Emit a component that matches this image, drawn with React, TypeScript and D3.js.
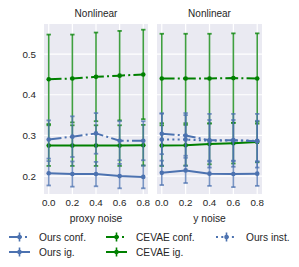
import React from "react";
import * as d3 from "d3";

const xs = [0, 0.2, 0.4, 0.6, 0.8];
const xTicks = ["0.0", "0.2", "0.4", "0.6", "0.8"];
const yTicks = [0.2, 0.3, 0.4, 0.5];
const titles = ["Nonlinear", "Nonlinear"];
const xLabels = ["proxy noise", "y noise"];

// panel 1: proxy noise
const oursConfProxy = [0.290, 0.297, 0.305, 0.287, 0.287];
const oursConfProxyErr = [0.047, 0.05, 0.05, 0.048, 0.048];
const oursIgProxy = [0.207, 0.205, 0.205, 0.200, 0.198];
const oursIgProxyErr = [0.03, 0.031, 0.03, 0.03, 0.028];
const cevaeConfProxy = [0.438, 0.440, 0.444, 0.447, 0.450];
const cevaeConfProxyErr = [0.11, 0.108, 0.109, 0.11, 0.11];
const cevaeIgProxy = [0.275, 0.275, 0.275, 0.275, 0.276];
const cevaeIgProxyErr = [0.05, 0.05, 0.05, 0.05, 0.05];

// panel 2: y noise
const oursConfY = [0.304, 0.300, 0.288, 0.288, 0.286];
const oursConfYErr = [0.05, 0.05, 0.05, 0.05, 0.05];
const oursInstY = [0.290, 0.290, 0.287, 0.288, 0.287];
const oursInstYErr = [0.064, 0.065, 0.066, 0.065, 0.066];
const oursIgY = [0.208, 0.214, 0.206, 0.205, 0.206];
const oursIgYErr = [0.03, 0.031, 0.03, 0.032, 0.03];
const cevaeConfY = [0.440, 0.440, 0.440, 0.441, 0.440];
const cevaeConfYErr = [0.11, 0.11, 0.11, 0.11, 0.111];
const cevaeIgY = [0.275, 0.276, 0.279, 0.281, 0.284];
const cevaeIgYErr = [0.05, 0.05, 0.05, 0.05, 0.05];

const BLUE = "#4C72B0";
const GREEN = "#008000";
const DASHDOT = "12.8,3.2,2,3.2";
const DOTTED = "2,3.3";

type Series = { name: string; vals: number[]; err: number[]; color: string; dash?: string };

const panels: Series[][] = [
  [
    { name: "CEVAE conf.", vals: cevaeConfProxy, err: cevaeConfProxyErr, color: GREEN, dash: DASHDOT },
    { name: "CEVAE ig.", vals: cevaeIgProxy, err: cevaeIgProxyErr, color: GREEN },
    { name: "Ours conf.", vals: oursConfProxy, err: oursConfProxyErr, color: BLUE, dash: DASHDOT },
    { name: "Ours ig.", vals: oursIgProxy, err: oursIgProxyErr, color: BLUE },
  ],
  [
    { name: "CEVAE conf.", vals: cevaeConfY, err: cevaeConfYErr, color: GREEN, dash: DASHDOT },
    { name: "CEVAE ig.", vals: cevaeIgY, err: cevaeIgYErr, color: GREEN },
    { name: "Ours inst.", vals: oursInstY, err: oursInstYErr, color: BLUE, dash: DOTTED },
    { name: "Ours conf.", vals: oursConfY, err: oursConfYErr, color: BLUE, dash: DASHDOT },
    { name: "Ours ig.", vals: oursIgY, err: oursIgYErr, color: BLUE },
  ],
];

const legendItems = [
  { name: "Ours conf.", color: BLUE, dash: DASHDOT },
  { name: "CEVAE conf.", color: GREEN, dash: DASHDOT },
  { name: "Ours inst.", color: BLUE, dash: DOTTED },
  { name: "Ours ig.", color: BLUE, dash: undefined },
  { name: "CEVAE ig.", color: GREEN, dash: undefined },
];

const FONT = "'Liberation Sans', Arial, sans-serif";
const TXT = "#262626";

export default function App() {
  const top = 24, bottom = 194;
  const panelX = [[44, 148], [157, 262]];
  const y = d3.scaleLinear().domain([0.156, 0.574]).range([bottom, top]);

  return (
    <svg width={299} height={267} style={{ position: "absolute", left: 0, top: 0 }} fontFamily={FONT}>
      <rect width={299} height={267} fill="white" />
      {panels.map((series, pi) => {
        const [x0, x1] = panelX[pi];
        const x = d3.scaleLinear().domain([-0.04, 0.84]).range([x0, x1]);
        const line = d3.line<number>().x((_, i) => x(xs[i])).y((v) => y(v));
        return (
          <g key={pi}>
            <rect x={x0} y={top} width={x1 - x0} height={bottom - top} fill="#EAEAF2" />
            {yTicks.map((t) => (
              <line key={t} x1={x0} x2={x1} y1={y(t)} y2={y(t)} stroke="white" strokeWidth={1.2} />
            ))}
            {xs.map((t) => (
              <line key={t} x1={x(t)} x2={x(t)} y1={top} y2={bottom} stroke="white" strokeWidth={1.2} />
            ))}
            <text x={(x0 + x1) / 2} y={17} textAnchor="middle" fontSize={10} fill={TXT}>{titles[pi]}</text>
            {xs.map((t, i) => (
              <text key={t} x={x(t)} y={206} textAnchor="middle" fontSize={9.8} fill={TXT}>{xTicks[i]}</text>
            ))}
            <text x={(x0 + x1) / 2} y={222} textAnchor="middle" fontSize={10.3} fill={TXT}>{xLabels[pi]}</text>
            {pi === 0 && yTicks.map((t) => (
              <text key={t} x={36} y={y(t) + 3.5} textAnchor="end" fontSize={9.8} fill={TXT}>{t.toFixed(1)}</text>
            ))}
            {series.map((s, si) => (
              <g key={si}>
                {s.vals.map((v, i) => {
                  const cx = x(xs[i]);
                  const yt = y(v + s.err[i]);
                  const yb = y(v - s.err[i]);
                  return (
                    <g key={i} stroke={s.color} strokeOpacity={0.75}>
                      <line x1={cx} x2={cx} y1={yt} y2={yb} strokeWidth={1.6} />
                      <line x1={cx - 2.2} x2={cx + 2.2} y1={yt} y2={yt} strokeWidth={1.8} />
                      <line x1={cx - 2.2} x2={cx + 2.2} y1={yb} y2={yb} strokeWidth={1.8} />
                    </g>
                  );
                })}
                <path d={line(s.vals) || ""} fill="none" stroke={s.color} strokeWidth={2} strokeDasharray={s.dash} />
                {s.vals.map((v, i) => (
                  <circle key={i} cx={x(xs[i])} cy={y(v)} r={2.3} fill={s.color} />
                ))}
              </g>
            ))}
          </g>
        );
      })}
      {legendItems.map((it, k) => {
        const col = k < 3 ? k : k - 3;
        const row = k < 3 ? 0 : 1;
        const hx = [9, 106, 216][col];
        const ty = [237, 252][row];
        const mid = hx + 10.5;
        return (
          <g key={k}>
            <line x1={hx} x2={hx + 21} y1={ty} y2={ty} stroke={it.color} strokeWidth={2} strokeDasharray={it.dash} />
            <line x1={mid} x2={mid} y1={ty - 4.5} y2={ty + 4.5} stroke={it.color} strokeWidth={1.6} />
            <circle cx={mid} cy={ty} r={2.3} fill={it.color} />
            <text x={hx + 30} y={ty + 3.6} fontSize={10.2} fill={TXT}>{it.name}</text>
          </g>
        );
      })}
    </svg>
  );
}
